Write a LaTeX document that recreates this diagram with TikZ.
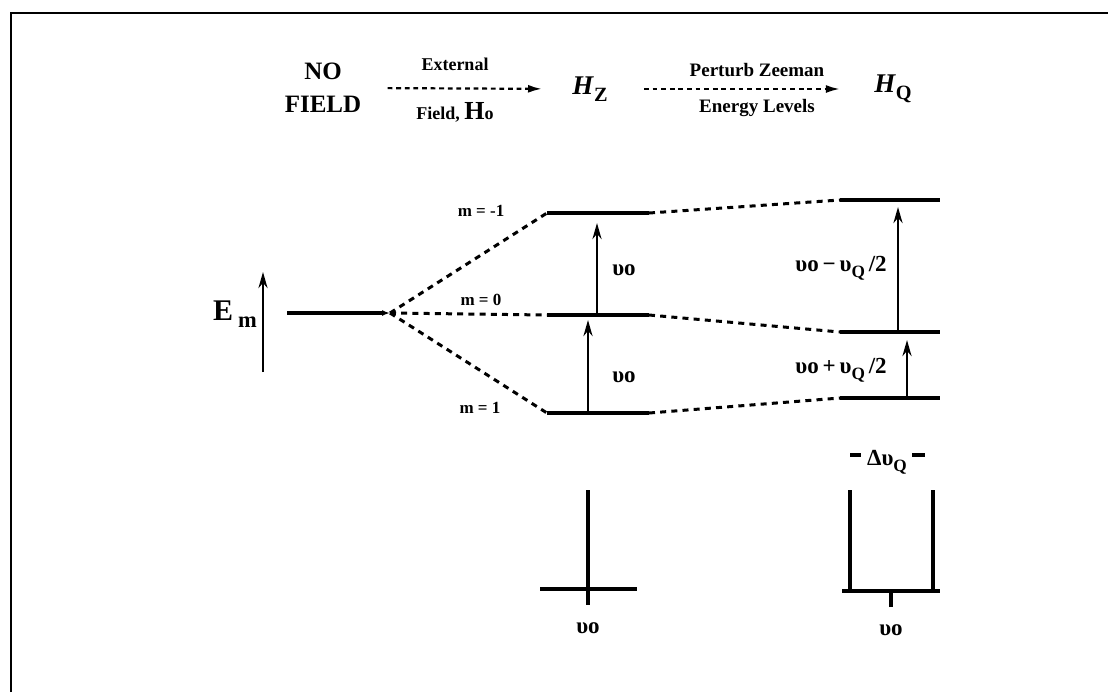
\documentclass[tikz,border=0pt]{standalone}
\usepackage{fontspec}
\usepackage{graphicx}
\setmainfont{Liberation Serif}
\usetikzlibrary{arrows.meta,calc}
\newcommand{\lowidx}[1]{\raisebox{-.55ex}{\scalebox{.75}{#1}}}
\begin{document}
\begin{tikzpicture}[x=0.5pt,y=-0.5pt,
 lvl/.style={line width=1.6pt},
 link/.style={line width=1.5pt,dash pattern=on 3pt off 2.6pt},
 flow/.style={line width=1.1pt,dash pattern=on 2.4pt off 1.9pt,-{Latex[length=7pt,width=4pt]}},
 trans/.style={line width=1.4pt,-{Stealth[length=8pt,width=4.5pt]}},
 head/.style={font=\bfseries\fontsize{12.5}{16.5}\selectfont,align=center,inner sep=0pt},
 note/.style={font=\bfseries\fontsize{8.5}{10}\selectfont,inner sep=1pt},
 lbl/.style={font=\bfseries\fontsize{11.5}{13}\selectfont,inner sep=1pt}]
 \useasboundingbox (0,0) rectangle (1108,692);
 % frame
 \coordinate (fa) at (11,692);
 \coordinate (fb) at (11,13);
 \coordinate (fc) at (1108,13);
 \draw[line width=1.4pt] (fa) -- (fb) -- (fc);
 % heading
 \node[head] (nofield) at (323,88) {NO\\FIELD};
 \node[note,font=\bfseries\fontsize{9}{10}\selectfont] (ext) at (455,64) {External};
 \node[note,font=\bfseries\fontsize{9}{10}\selectfont] (fld) at (455,112) {Field, {\fontsize{13}{14}\selectfont H}o};
 \node[head,font=\bfseries\fontsize{13.5}{16}\selectfont] (hz) at (590,89) {\textit{H}\lowidx{Z}};
 \node[note,font=\bfseries\fontsize{9.5}{10}\selectfont] (pz) at (757,70) {Perturb Zeeman};
 \node[note,font=\bfseries\fontsize{9.5}{10}\selectfont] (el) at (757,108) {Energy Levels};
 \node[head,font=\bfseries\fontsize{13.5}{16}\selectfont] (hq) at (893,89) {\textit{H}\lowidx{Q}};
 \draw[flow,shorten <=13pt,shorten >=15pt] (nofield.east) -- (hz.west);
 \draw[flow,shorten <=18pt,shorten >=17pt] (hz.east) -- (hq.west);
 % energy axis
 \node[font=\bfseries\fontsize{15}{16}\selectfont,inner sep=0pt] (em) at (235,314) {E\,\lowidx{m}};
 \coordinate (eb) at (263,372);
 \coordinate (et) at (263,272);
 \draw[trans] (eb) -- (et);
 % levels
 \coordinate (nf) at (287,313);
 \coordinate (sp) at (390,313);
 \coordinate (zt1) at (547,213); \coordinate (zt2) at (649,213);
 \coordinate (zm1) at (547,315); \coordinate (zm2) at (649,315);
 \coordinate (zb1) at (547,413); \coordinate (zb2) at (649,413);
 \coordinate (qt1) at (840,200); \coordinate (qt2) at (940,200);
 \coordinate (qm1) at (840,332); \coordinate (qm2) at (940,332);
 \coordinate (qb1) at (840,398); \coordinate (qb2) at (940,398);
 \draw[lvl,-{Latex[length=4pt,width=3pt]}] (nf) -- (sp);
 \draw[lvl] (zt1) -- (zt2) (zm1) -- (zm2) (zb1) -- (zb2);
 \draw[lvl] (qt1) -- (qt2) (qm1) -- (qm2) (qb1) -- (qb2);
 \draw[link] (sp) -- (zt1) (sp) -- (zm1) (sp) -- (zb1);
 \draw[link] (zt2) -- (qt1) (zm2) -- (qm1) (zb2) -- (qb1);
 \node[note] (m1) at (481,211) {m = -1};
 \node[note] (m0) at (481,300) {m = 0};
 \node[note] (mp) at (480,408) {m = 1};
 % transitions
 \draw[trans] ($(zm1)+(50,0)$) -- ($(zt1)+(50,10)$);
 \draw[trans] ($(zb1)+(41,0)$) -- ($(zm1)+(41,5)$);
 \draw[trans] ($(qm1)+(58,0)$) -- ($(qt1)+(58,7)$);
 \draw[trans] ($(qb1)+(67,0)$) -- ($(qm1)+(67,8)$);
 \node[lbl] (f1) at (624,270) {υo};
 \node[lbl] (f2) at (624,377) {υo};
 \node[lbl] (f3) at (841,268) {υo\,−\,υ\lowidx{Q}\,/2};
 \node[lbl] (f4) at (841,370) {υo\,+\,υ\lowidx{Q}\,/2};
 % spectra
 \coordinate (s1a) at (540,589); \coordinate (s1b) at (637,589);
 \coordinate (s1p) at (588,490); \coordinate (s1q) at (588,605);
 \draw[lvl] (s1a) -- (s1b) (s1p) -- (s1q);
 \node[lbl] (s1v) at (588,628) {υo};
 \coordinate (s2a) at (842,591); \coordinate (s2b) at (940,591);
 \coordinate (s2l) at (850,490); \coordinate (s2r) at (933,490);
 \coordinate (s2t) at (891,607);
 \draw[lvl] (s2a) -- (s2b) (s2l) -- (s2l |- s2a) (s2r) -- (s2r |- s2a) (s2t) -- (s2t |- s2a);
 \node[lbl] (s2v) at (891,630) {υo};
 \node[lbl] (dq) at (887,462) {Δυ\lowidx{Q}};
 \coordinate (dl1) at (850,455); \coordinate (dl2) at (861,455);
 \coordinate (dr1) at (912,455); \coordinate (dr2) at (925,455);
 \draw[lvl] (dl1) -- (dl2) (dr1) -- (dr2);
\end{tikzpicture}
\end{document}
